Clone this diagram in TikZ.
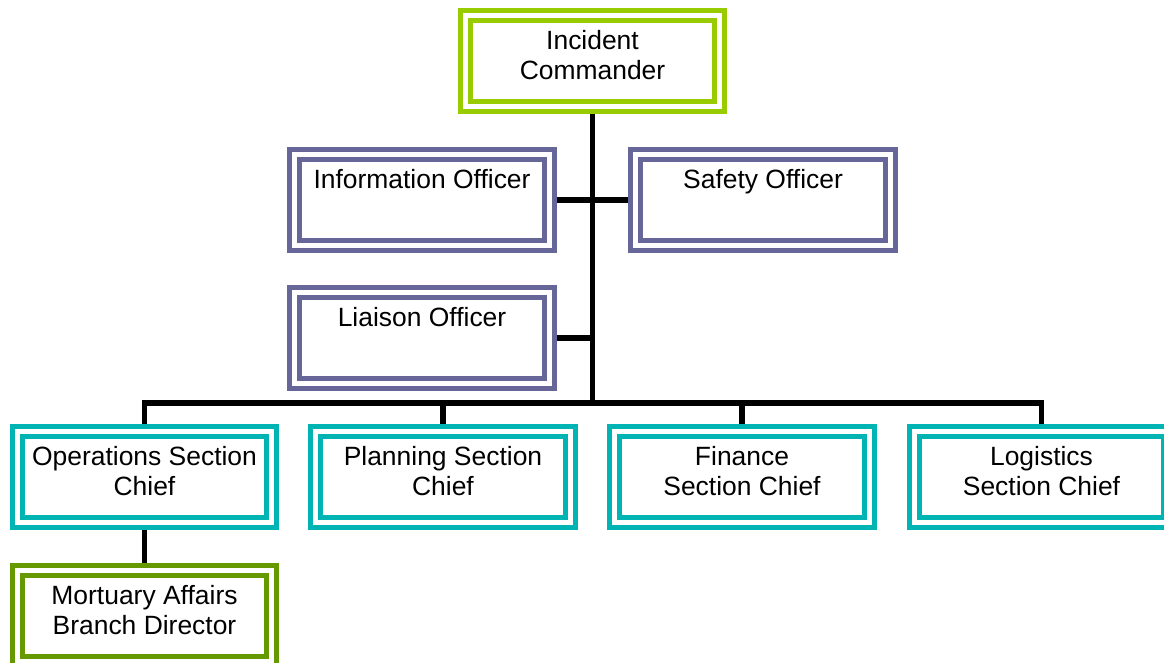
\documentclass[tikz,border=0pt]{standalone}
\usepackage{fontspec}
\setmainfont{Liberation Sans}
\usetikzlibrary{backgrounds}
\definecolor{cmdgreen}{RGB}{153,204,0}
\definecolor{staffblue}{RGB}{102,102,153}
\definecolor{secteal}{RGB}{0,180,180}
\definecolor{branchgreen}{RGB}{102,153,0}
\tikzset{
x=0.025cm, y=-0.025cm, % one unit is one pixel of the chart, y runs down
ics box/.style={draw, double, line width=0.125cm, double distance=0.125cm,
  fill=white, minimum width=6.35cm, minimum height=2.275cm, inner sep=0pt,
  align=center, text depth=9pt, font=\fontsize{18.8}{21}\selectfont}, % the framed boxes
cmd box/.style={ics box, draw=cmdgreen},
staff box/.style={ics box, draw=staffblue},
sect box/.style={ics box, draw=secteal},
branch box/.style={ics box, draw=branchgreen},
link/.style={line width=0.13cm, black}, % the black connectors
}
\begin{document}
\begin{tikzpicture}
  \useasboundingbox (0,0) rectangle (1164,663);
  \node[cmd box] (ic) at (592.5,61) {Incident\\Commander};
  \node[staff box] (info) at (422,200) {Information Officer\\\strut};
  \node[staff box] (safety) at (763,200) {Safety Officer\\\strut};
  \node[staff box] (liaison) at (422,338) {Liaison Officer\\\strut};
  \node[sect box] (ops) at (144.5,477) {Operations Section\\Chief};
  \node[sect box] (plan) at (443,477) {Planning Section\\Chief};
  \node[sect box] (fin) at (742,477) {Finance\\Section Chief};
  \node[sect box] (log) at (1041.5,477) {Logistics\\Section Chief};
  \node[branch box] (mort) at (144.5,616) {Mortuary Affairs\\Branch Director};
  \coordinate (bus) at (592.5,403);
  \begin{scope}[on background layer]
    \draw[link] (ic) -- (bus);
    \draw[link] (info.east) -- (info.east -| ic);
    \draw[link] (safety.west) -- (safety.west -| ic);
    \draw[link] (liaison.east) -- (liaison.east -| ic);
    \draw[link] (ops) |- (bus) -| (log);
    \draw[link] (plan) -- (plan |- bus);
    \draw[link] (fin) -- (fin |- bus);
    \draw[link] (ops) -- (mort);
  \end{scope}
\end{tikzpicture}
\end{document}
